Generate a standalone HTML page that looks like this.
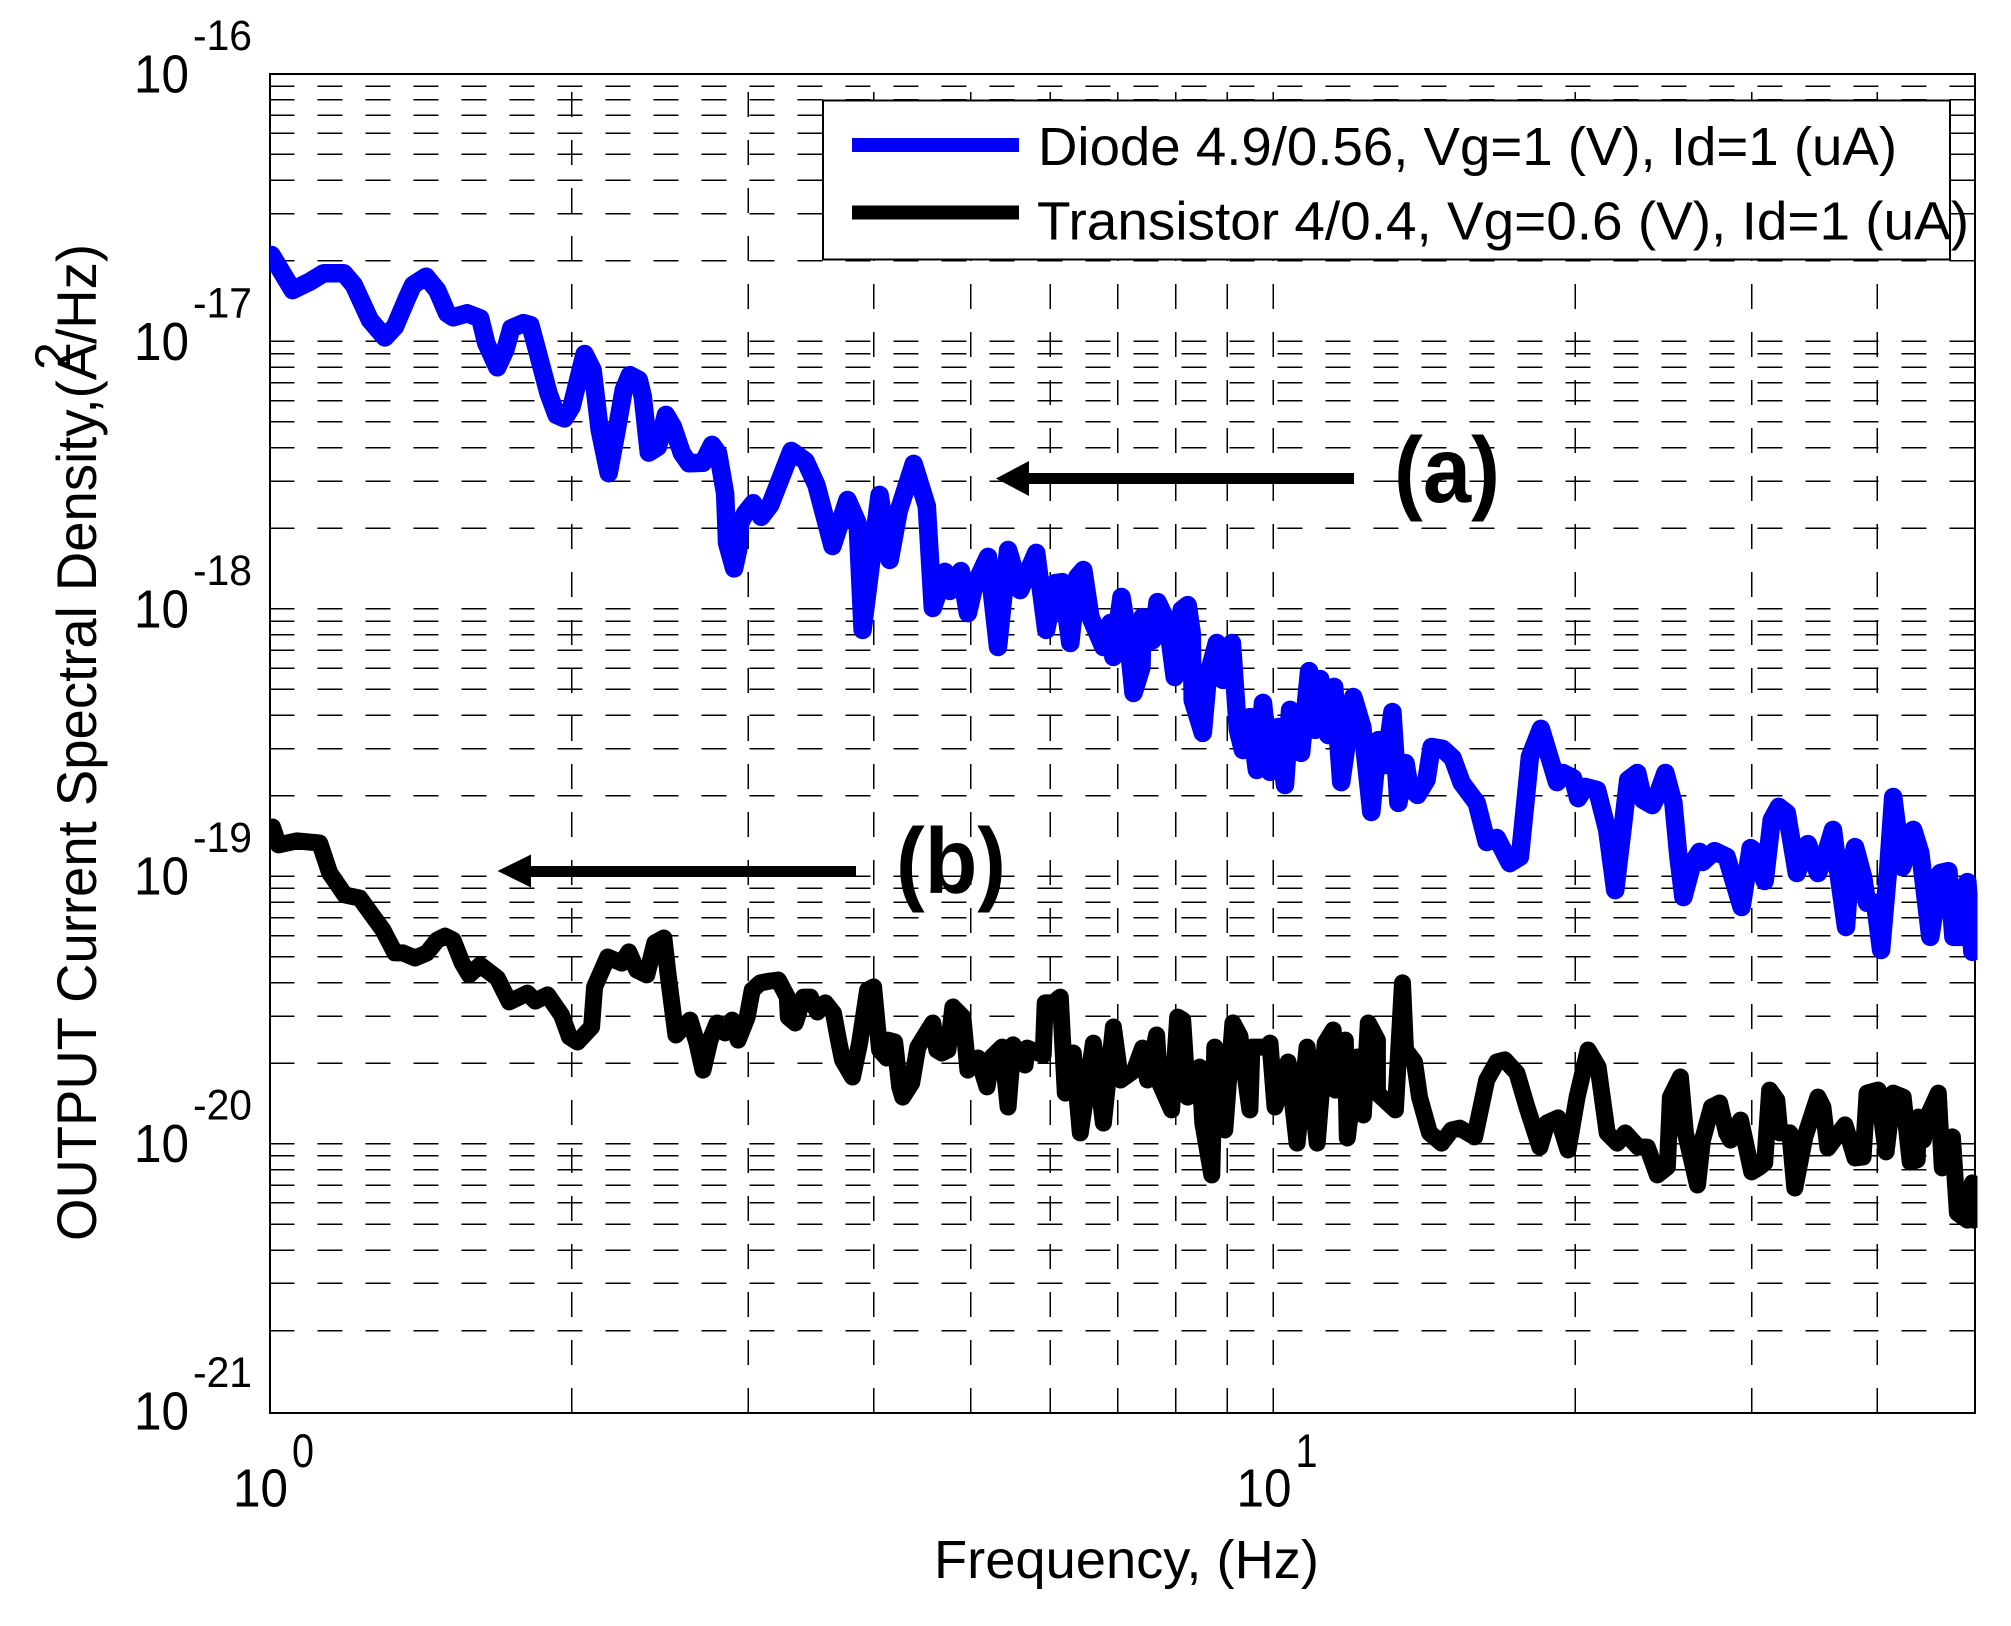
<!DOCTYPE html>
<html lang="en">
<head>
<meta charset="utf-8">
<title>Output current spectral density</title>
<style>
html,body{margin:0;padding:0;background:#fff;}
svg{display:block;}
text{font-family:"Liberation Sans",sans-serif;fill:#000;}
</style>
</head>
<body>
<svg id="chart" xmlns="http://www.w3.org/2000/svg" width="2011" height="1626" viewBox="0 0 2011 1626">
  <rect x="0" y="0" width="2011" height="1626" fill="#fff"/>
  <defs>
    <clipPath id="plot-clip"><rect x="270" y="60" width="1707.5" height="1353"/></clipPath>
  </defs>
  <g id="grid"></g>
  <rect x="270" y="74" width="1705" height="1339" fill="none" stroke="#000" stroke-width="2" shape-rendering="crispEdges"/>
  <g id="series" clip-path="url(#plot-clip)"></g>

  <g>
    <rect x="823" y="100.5" width="1127" height="159" fill="#fff" stroke="#000" stroke-width="2" shape-rendering="crispEdges"/>
    <line x1="852" y1="145" x2="1019" y2="145" stroke="#0000ff" stroke-width="14"/>
    <line x1="852" y1="212.5" x2="1019" y2="212.5" stroke="#000" stroke-width="14"/>
    <text x="1038" y="165" font-size="54" textLength="859" lengthAdjust="spacingAndGlyphs">Diode 4.9/0.56, Vg=1 (V), Id=1 (uA)</text>
    <text x="1037" y="239.5" font-size="54" textLength="932" lengthAdjust="spacingAndGlyphs">Transistor 4/0.4, Vg=0.6 (V), Id=1 (uA)</text>
  </g>

  <g>
    <rect x="1028" y="473" width="326" height="11" fill="#000"/>
    <polygon points="996,478.5 1029,461 1029,496" fill="#000"/>
    <text x="1394" y="502" font-size="93" font-weight="bold" textLength="106" lengthAdjust="spacingAndGlyphs">(a)</text>
  </g>
  <g>
    <rect x="530" y="866" width="326" height="11" fill="#000"/>
    <polygon points="497.5,871 531,854.5 531,887.5" fill="#000"/>
    <text x="896" y="893" font-size="93" font-weight="bold" textLength="110" lengthAdjust="spacingAndGlyphs">(b)</text>
  </g>

  <g id="ticks"></g>

  <text x="934" y="1578" font-size="54" textLength="385" lengthAdjust="spacingAndGlyphs">Frequency, (Hz)</text>
  <text x="96" y="1241" font-size="56" textLength="997" lengthAdjust="spacingAndGlyphs" transform="rotate(-90 96 1241)">OUTPUT Current Spectral Density,(A/Hz)</text>
  <text x="70" y="370" font-size="50" transform="rotate(-90 70 370)">2</text>
</svg>

<script>
// Values are log10(frequency in Hz) and log10(spectral density in A^2/Hz).
var xTickExponents = [0, 1];
var yTickExponents = [-16, -17, -18, -19, -20, -21];
var gridMultipliers = [1, 2, 3, 4, 5, 6, 7, 8, 9];
var xDomainLog = [0, 1.69897];

var diodeLogFreq = [0.002,0.023,0.040,0.054,0.074,0.084,0.100,0.115,0.125,0.137,0.143,0.156,0.167,0.177,0.183,0.197,0.210,0.216,0.227,0.235,0.241,0.253,0.260,0.268,0.278,0.286,0.294,0.301,0.314,0.322,0.329,0.338,0.346,0.353,0.359,0.368,0.372,0.378,0.387,0.395,0.402,0.411,0.418,0.432,0.441,0.447,0.454,0.456,0.463,0.467,0.469,0.474,0.482,0.490,0.499,0.520,0.534,0.545,0.561,0.576,0.586,0.591,0.608,0.618,0.627,0.642,0.655,0.661,0.673,0.678,0.689,0.696,0.702,0.716,0.726,0.736,0.748,0.764,0.774,0.783,0.790,0.798,0.805,0.811,0.818,0.831,0.838,0.841,0.849,0.855,0.861,0.869,0.870,0.880,0.885,0.895,0.902,0.909,0.915,0.919,0.920,0.930,0.935,0.944,0.950,0.959,0.965,0.970,0.977,0.984,0.990,0.997,1.005,1.012,1.017,1.028,1.036,1.042,1.047,1.055,1.061,1.065,1.068,1.080,1.089,1.098,1.105,1.112,1.119,1.125,1.132,1.136,1.144,1.153,1.158,1.169,1.179,1.188,1.203,1.213,1.223,1.236,1.246,1.256,1.267,1.283,1.289,1.299,1.304,1.311,1.323,1.333,1.341,1.349,1.354,1.363,1.369,1.378,1.384,1.391,1.399,1.404,1.409,1.418,1.425,1.428,1.440,1.452,1.467,1.476,1.482,1.490,1.497,1.504,1.512,1.522,1.533,1.543,1.550,1.558,1.563,1.571,1.575,1.580,1.588,1.592,1.600,1.606,1.613,1.618,1.627,1.638,1.645,1.655,1.665,1.673,1.678,1.687,1.692,1.697,1.698,1.699];
var diodeLogDensity = [-16.677,-16.808,-16.777,-16.745,-16.745,-16.789,-16.920,-16.985,-16.945,-16.839,-16.789,-16.758,-16.808,-16.895,-16.910,-16.895,-16.914,-17.007,-17.097,-17.032,-16.951,-16.932,-16.939,-17.051,-17.194,-17.275,-17.288,-17.244,-17.047,-17.107,-17.331,-17.493,-17.331,-17.182,-17.126,-17.144,-17.207,-17.416,-17.394,-17.275,-17.319,-17.418,-17.456,-17.454,-17.387,-17.418,-17.568,-17.755,-17.849,-17.780,-17.680,-17.643,-17.605,-17.656,-17.612,-17.410,-17.447,-17.537,-17.765,-17.593,-17.679,-18.079,-17.574,-17.817,-17.634,-17.458,-17.616,-17.997,-17.862,-17.933,-17.859,-18.016,-17.918,-17.806,-18.143,-17.780,-17.930,-17.791,-18.079,-17.904,-17.900,-18.128,-17.881,-17.855,-18.031,-18.143,-18.053,-18.180,-17.956,-18.090,-18.315,-18.218,-18.031,-18.117,-17.975,-18.053,-18.255,-18.004,-17.986,-18.090,-18.341,-18.464,-18.255,-18.128,-18.266,-18.128,-18.453,-18.528,-18.405,-18.603,-18.352,-18.610,-18.442,-18.659,-18.378,-18.539,-18.233,-18.453,-18.263,-18.472,-18.292,-18.491,-18.648,-18.330,-18.442,-18.760,-18.491,-18.584,-18.386,-18.726,-18.577,-18.666,-18.696,-18.640,-18.517,-18.524,-18.558,-18.651,-18.726,-18.872,-18.857,-18.951,-18.928,-18.554,-18.449,-18.648,-18.614,-18.633,-18.708,-18.666,-18.678,-18.827,-19.052,-18.801,-18.640,-18.614,-18.715,-18.734,-18.689,-18.614,-18.726,-18.928,-19.078,-18.951,-18.909,-18.947,-18.906,-18.928,-19.115,-18.895,-18.913,-19.018,-18.790,-18.741,-18.764,-18.988,-18.880,-18.988,-18.928,-18.827,-18.977,-19.190,-18.977,-18.891,-19.003,-19.100,-19.100,-19.276,-18.977,-18.704,-18.966,-18.827,-18.913,-19.227,-18.988,-18.981,-19.227,-19.227,-19.022,-19.283,-19.100,-19.257];

var transistorLogFreq = [0.003,0.009,0.027,0.050,0.060,0.075,0.090,0.113,0.125,0.133,0.145,0.157,0.167,0.175,0.183,0.192,0.199,0.210,0.227,0.239,0.257,0.265,0.277,0.291,0.299,0.307,0.321,0.324,0.337,0.351,0.358,0.366,0.376,0.384,0.393,0.397,0.405,0.419,0.426,0.432,0.439,0.446,0.454,0.461,0.467,0.476,0.481,0.489,0.499,0.507,0.516,0.517,0.524,0.532,0.539,0.546,0.554,0.562,0.567,0.571,0.581,0.588,0.596,0.602,0.608,0.615,0.616,0.623,0.628,0.631,0.640,0.646,0.661,0.665,0.670,0.676,0.681,0.691,0.696,0.706,0.715,0.720,0.730,0.736,0.741,0.753,0.755,0.771,0.773,0.781,0.788,0.793,0.801,0.808,0.821,0.831,0.841,0.848,0.862,0.870,0.875,0.884,0.887,0.899,0.905,0.910,0.915,0.927,0.930,0.939,0.942,0.952,0.960,0.967,0.977,0.979,0.994,0.997,1.002,1.015,1.024,1.034,1.044,1.052,1.060,1.062,1.072,1.074,1.084,1.090,1.095,1.104,1.104,1.122,1.129,1.132,1.141,1.146,1.156,1.168,1.178,1.186,1.201,1.213,1.223,1.231,1.243,1.253,1.266,1.273,1.284,1.294,1.303,1.314,1.324,1.333,1.343,1.351,1.364,1.373,1.383,1.393,1.396,1.406,1.411,1.423,1.428,1.437,1.445,1.452,1.456,1.466,1.477,1.485,1.490,1.495,1.502,1.505,1.515,1.520,1.530,1.543,1.548,1.553,1.570,1.580,1.588,1.592,1.603,1.611,1.618,1.628,1.635,1.642,1.643,1.648,1.652,1.663,1.667,1.677,1.682,1.692,1.697,1.698,1.699];
var transistorLogDensity = [-18.816,-18.883,-18.868,-18.876,-18.988,-19.070,-19.082,-19.201,-19.287,-19.287,-19.306,-19.287,-19.239,-19.224,-19.239,-19.325,-19.369,-19.332,-19.381,-19.470,-19.437,-19.467,-19.444,-19.519,-19.601,-19.620,-19.564,-19.414,-19.302,-19.325,-19.283,-19.351,-19.369,-19.250,-19.231,-19.362,-19.594,-19.538,-19.624,-19.725,-19.613,-19.549,-19.586,-19.538,-19.613,-19.527,-19.426,-19.399,-19.392,-19.388,-19.452,-19.527,-19.549,-19.452,-19.452,-19.508,-19.474,-19.512,-19.613,-19.687,-19.751,-19.624,-19.426,-19.414,-19.650,-19.680,-19.613,-19.620,-19.788,-19.826,-19.773,-19.639,-19.549,-19.650,-19.661,-19.650,-19.489,-19.527,-19.725,-19.680,-19.788,-19.676,-19.639,-19.863,-19.631,-19.706,-19.643,-19.669,-19.474,-19.474,-19.452,-19.811,-19.661,-19.960,-19.624,-19.923,-19.564,-19.762,-19.725,-19.643,-19.762,-19.594,-19.773,-19.874,-19.527,-19.538,-19.826,-19.714,-19.923,-20.117,-19.639,-19.949,-19.549,-19.598,-19.874,-19.639,-19.639,-19.624,-19.863,-19.695,-19.998,-19.639,-19.998,-19.624,-19.575,-19.800,-19.613,-19.979,-19.676,-19.893,-19.549,-19.613,-19.811,-19.874,-19.399,-19.650,-19.695,-19.826,-19.960,-19.998,-19.949,-19.942,-19.975,-19.762,-19.695,-19.687,-19.736,-19.863,-20.013,-19.923,-19.904,-20.024,-19.826,-19.650,-19.714,-19.960,-19.998,-19.960,-20.013,-20.013,-20.117,-20.087,-19.826,-19.751,-19.960,-20.155,-19.987,-19.863,-19.848,-19.960,-19.987,-19.912,-20.106,-20.087,-20.072,-19.800,-19.837,-19.960,-19.960,-20.166,-19.975,-19.826,-19.863,-20.016,-19.930,-20.054,-20.050,-19.811,-19.800,-20.031,-19.811,-19.826,-20.069,-20.061,-19.901,-19.987,-19.901,-19.811,-20.091,-19.975,-20.259,-20.286,-20.147,-20.286,-20.211];

var SVG_NS = 'http://www.w3.org/2000/svg';
var PLOT_LEFT = 269.5, X_DECADE = 1003.5;
var PLOT_TOP = 74, PLOT_BOTTOM = 1413, Y_DECADE = 267.4;

function xScale(logF) { return PLOT_LEFT + logF * X_DECADE; }
function yScale(logS) { return PLOT_TOP + (-16 - logS) * Y_DECADE; }

var gridGroup = document.getElementById('grid');
var seriesGroup = document.getElementById('series');
var ticksGroup = document.getElementById('ticks');
var xRight = xScale(xDomainLog[1]);

function styleGridLine(line) {
  line.setAttribute('stroke', '#000');
  line.setAttribute('stroke-width', '1.5');
  line.setAttribute('stroke-dasharray', '25 23');
  line.setAttribute('shape-rendering', 'crispEdges');
}

// horizontal grid lines for each decade
yTickExponents.forEach(function (dec) {
  if (dec === -16) return;
  gridMultipliers.forEach(function (m) {
    if (dec === -21 && m === 1) return;
    var y = yScale(dec + Math.log10(m));
    var line = document.createElementNS(SVG_NS, 'line');
    
    
    line.setAttribute('x1', PLOT_LEFT);
    line.setAttribute('x2', xRight);
    line.setAttribute('y1', y);
    line.setAttribute('y2', y);
    styleGridLine(line);
    gridGroup.appendChild(line);
  });
});

// vertical grid lines, dashed upward from the bottom axis
xTickExponents.forEach(function (dec) {
  gridMultipliers.forEach(function (m) {
    var lf = dec + Math.log10(m);
    if (lf <= xDomainLog[0] || lf >= xDomainLog[1]) return;
    var x = xScale(lf);
    var line = document.createElementNS(SVG_NS, 'line');
    
    
    line.setAttribute('x1', x);
    line.setAttribute('x2', x);
    line.setAttribute('y1', PLOT_BOTTOM);
    line.setAttribute('y2', PLOT_TOP);
    styleGridLine(line);
    gridGroup.appendChild(line);
  });
});

function drawSeries(logF, logS, color, width) {
  var pts = logF.map(function (f, i) {
    return xScale(f).toFixed(1) + ',' + yScale(logS[i]).toFixed(1);
  }).join(' ');
  var poly = document.createElementNS(SVG_NS, 'polyline');
  poly.setAttribute('points', pts);
  poly.setAttribute('fill', 'none');
  poly.setAttribute('stroke', color);
  poly.setAttribute('stroke-width', width);
  poly.setAttribute('stroke-linejoin', 'round');
  poly.setAttribute('stroke-linecap', 'round');
  seriesGroup.appendChild(poly);
  return poly;
}

var diodeLine = drawSeries(diodeLogFreq, diodeLogDensity, '#0000ff', 18.5);


var transistorLine = drawSeries(transistorLogFreq, transistorLogDensity, '#000000', 17);



function addText(x, y, size, str, width) {
  var t = document.createElementNS(SVG_NS, 'text');
  t.setAttribute('x', x);
  t.setAttribute('y', y);
  t.setAttribute('font-size', size);
  if (width) {
    t.setAttribute('textLength', width);
    t.setAttribute('lengthAdjust', 'spacingAndGlyphs');
  }
  t.textContent = str;
  ticksGroup.appendChild(t);
  return t;
}

yTickExponents.forEach(function (dec) {
  var y = yScale(dec);
  var base = addText(134, y + 18.5, 54, '10', 55);
  
  
  var exp = addText(193, y - 24, 43, String(dec), 59);
  
  
});

xTickExponents.forEach(function (dec) {
  var x = xScale(dec);
  var base = addText(x - 36.5, 1506.5, 54, '10', 55);
  
  
  var exp = addText(x + 22.5, 1467, 47, String(dec), 22);
  
  
});
</script>
</body>
</html>
